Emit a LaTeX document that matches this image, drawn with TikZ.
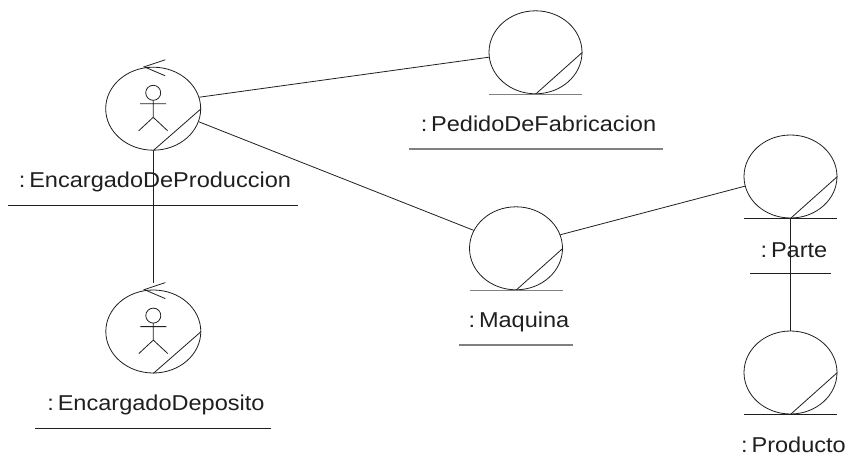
\documentclass[tikz,border=0pt]{standalone}
\usepackage{fontspec}
\usepackage{graphicx}
\setmainfont{Liberation Sans}
\usetikzlibrary{shapes.geometric}
\definecolor{ink}{gray}{0.12}
\newcommand{\widetext}[1]{\scalebox{1.095}[1]{:\hspace{0.16em}#1}}
\tikzset{
  x=1pt,y=-1pt,
  object/.style={ellipse,draw=ink,line width=0.8pt,inner sep=0pt,minimum width=#1,minimum height=83pt},
  object/.default=93pt,
  label text/.style={anchor=base,inner sep=0pt,text=ink,font=\fontsize{21.5}{25}\selectfont},
  under/.style={line width=0.8pt,draw=ink},
  softunder/.style={line width=1.1pt,draw=black!50},
  link/.style={line width=0.8pt,draw=ink}
}
\begin{document}
\begin{tikzpicture}
\useasboundingbox (0,0) rectangle (848,468);
% objects
\node[object=95pt] (enc) at (153.2,108.7) {};
\node[object=95pt] (dep) at (153.3,331.5) {};
\node[object] (ped) at (535.5,52.3) {};
\node[object] (maq) at (516,248.3) {};
\node[object] (par) at (790.5,176.5) {};
\node[object] (pro) at (790.5,372.5) {};
\coordinate (depTop) at (153.2,282.8);
% connectors
\draw[link] (enc.14) -- (ped.186);
\draw[link] (enc.-16) -- (maq.157);
\draw[link] (maq.17) -- (par.192);
\draw[link] (enc.south) -- (depTop);
\draw[link] (par.south) -- (pro.north);
% symbol details
\foreach \n in {enc,dep,ped,maq,par,pro}{\draw[link] (\n.south) -- (\n.east);}
\foreach \n/\s in {ped/softunder,maq/softunder,par/under,pro/under}{
  \draw[\s] ([xshift=-46.5pt]\n.south) -- ([xshift=46.5pt]\n.south);
}
\foreach \n in {enc,dep}{
  \draw[link] ([xshift=12pt,yshift=7pt]\n.north) -- ([xshift=-9pt]\n.north) -- ([xshift=12pt,yshift=-9pt]\n.north);
  \draw[link] ([yshift=-26pt]\n.north) circle[radius=7.5pt];
  \draw[link] ([yshift=-33.5pt]\n.north) -- ([yshift=-50.5pt]\n.north)
        ([xshift=-13pt,yshift=-37pt]\n.north) -- ([xshift=13pt,yshift=-37pt]\n.north)
        ([xshift=-14.5pt,yshift=-64pt]\n.north) -- ([yshift=-50.5pt]\n.north) -- ([xshift=14.5pt,yshift=-64pt]\n.north);
}
% labels
\node[label text] (encL) at (155,187.7) {\widetext{EncargadoDeProduccion}};
\node[label text] (depL) at (156,410.7) {\widetext{EncargadoDeposito}};
\node[label text] (pedL) at (538.5,131.7) {\widetext{PedidoDeFabricacion}};
\node[label text] (maqL) at (519,327.7) {\widetext{Maquina}};
\node[label text] (parL) at (794,257) {\widetext{Parte}};
\node[label text] (proL) at (793.5,452.7) {\widetext{Producto}};
% name underlines
\coordinate (u1a) at (8,205); \coordinate (u1b) at (298,205);
\coordinate (u2a) at (35,428.5); \coordinate (u2b) at (271,428.5);
\coordinate (u3a) at (409,149); \coordinate (u3b) at (663,149);
\coordinate (u4a) at (459,345); \coordinate (u4b) at (573,345);
\coordinate (u5a) at (750,273.5); \coordinate (u5b) at (831,273.5);
\draw[under] (u1a) -- (u1b);
\draw[under] (u2a) -- (u2b);
\draw[softunder] (u3a) -- (u3b);
\draw[softunder] (u4a) -- (u4b);
\draw[under] (u5a) -- (u5b);
\end{tikzpicture}
\end{document}
